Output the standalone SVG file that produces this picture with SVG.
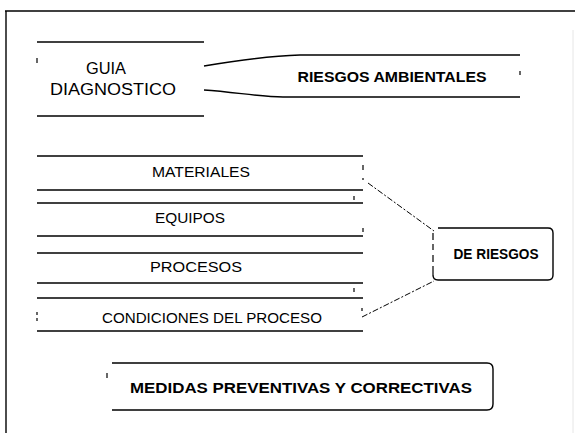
<svg xmlns="http://www.w3.org/2000/svg" width="575" height="433" viewBox="0 0 575 433">
<style>
.ln{stroke:#000;stroke-width:1.4;fill:none}
.tk{stroke:#000;stroke-width:1.2;fill:none}
.t{font-family:"Liberation Sans",Arial,sans-serif;fill:#000;text-anchor:middle}
.n{font-size:14px}
.b{font-size:14px;font-weight:bold}
.g{font-size:16px}
.cn{stroke:#000;stroke-width:1;fill:none;stroke-dasharray:6 2 2 2}
</style>
<rect width="575" height="433" fill="#fff"/>
<g id="frame">
<line class="ln" x1="5" y1="11" x2="575" y2="11" stroke-width="2"/>
<line class="ln" x1="6" y1="11" x2="6" y2="433" stroke-width="2"/>
<line x1="573" y1="30" x2="573" y2="433" stroke="#e6e6e6" stroke-width="1"/>
</g>
<g id="guia">
<line class="ln" x1="37" y1="42" x2="204" y2="42"/>
<line class="ln" x1="37" y1="116" x2="204" y2="116"/>
<line class="tk" x1="37" y1="58" x2="37" y2="63"/>
<text class="t g" x="106" y="74" textLength="40" lengthAdjust="spacingAndGlyphs">GUIA</text>
<text class="t g" x="113" y="95" textLength="126" lengthAdjust="spacingAndGlyphs">DIAGNOSTICO</text>
</g>
<g id="riesgos-ambientales">
<path class="ln" d="M204,66 C240,60 270,56 300,55 L520,55"/>
<path class="ln" d="M204,90 C235,92 260,97 283,97 L520,97"/>
<line class="tk" x1="520" y1="71" x2="520" y2="75"/>
<text class="t b" x="392" y="82" textLength="189" lengthAdjust="spacingAndGlyphs">RIESGOS AMBIENTALES</text>
</g>
<g id="materiales">
<line class="ln" x1="37" y1="156" x2="363" y2="156"/>
<line class="ln" x1="37" y1="190" x2="363" y2="190"/>
<line class="tk" x1="363" y1="165" x2="363" y2="170"/>
<line class="tk" x1="363" y1="178" x2="363" y2="180"/>
<text class="t n" x="201" y="177" textLength="98" lengthAdjust="spacingAndGlyphs">MATERIALES</text>
</g>
<g id="equipos">
<line class="ln" x1="37" y1="203" x2="363" y2="203"/>
<line class="ln" x1="37" y1="236" x2="363" y2="236"/>
<line class="tk" x1="354" y1="196" x2="354" y2="200"/>
<line class="tk" x1="363" y1="228" x2="363" y2="232"/>
<text class="t n" x="190" y="223" textLength="70" lengthAdjust="spacingAndGlyphs">EQUIPOS</text>
</g>
<g id="procesos">
<line class="ln" x1="37" y1="253" x2="363" y2="253"/>
<line class="ln" x1="37" y1="283" x2="363" y2="283"/>
<line class="tk" x1="354" y1="288" x2="354" y2="292"/>
<text class="t n" x="196" y="272" textLength="92" lengthAdjust="spacingAndGlyphs">PROCESOS</text>
</g>
<g id="condiciones">
<line class="ln" x1="37" y1="298" x2="363" y2="298"/>
<line class="ln" x1="37" y1="331" x2="363" y2="331"/>
<line class="tk" x1="37" y1="312" x2="37" y2="315"/>
<line class="tk" x1="37" y1="318" x2="37" y2="321"/>
<line class="tk" x1="362" y1="308" x2="362" y2="311"/>
<text class="t n" x="212" y="323" textLength="220" lengthAdjust="spacingAndGlyphs">CONDICIONES DEL PROCESO</text>
</g>
<g id="de-riesgos">
<path class="ln" d="M438,228 L548,228 Q553,228 553,233 L553,275 Q553,280 548,280 L438,280 Q433,280 433,275"/>
<path class="tk" d="M433,233 L433,240 M433,244 L433,250 M433,255 L433,262 M433,266 L433,275"/>
<text class="t b" x="496" y="259" font-size="13.5" textLength="85" lengthAdjust="spacingAndGlyphs">DE RIESGOS</text>
</g>
<g id="medidas">
<path class="ln" d="M112,363 L487,363 Q493,363 493,369 L493,404 Q493,410 487,410 L112,410"/>
<line class="tk" x1="107" y1="373" x2="107" y2="378"/>
<text class="t b" x="301" y="393" textLength="342" lengthAdjust="spacingAndGlyphs">MEDIDAS PREVENTIVAS Y CORRECTIVAS</text>
</g>
<g id="connectors">
<line class="cn" x1="368" y1="183" x2="434" y2="231"/>
<line class="cn" x1="362" y1="317" x2="434" y2="281"/>
</g>
</svg>
